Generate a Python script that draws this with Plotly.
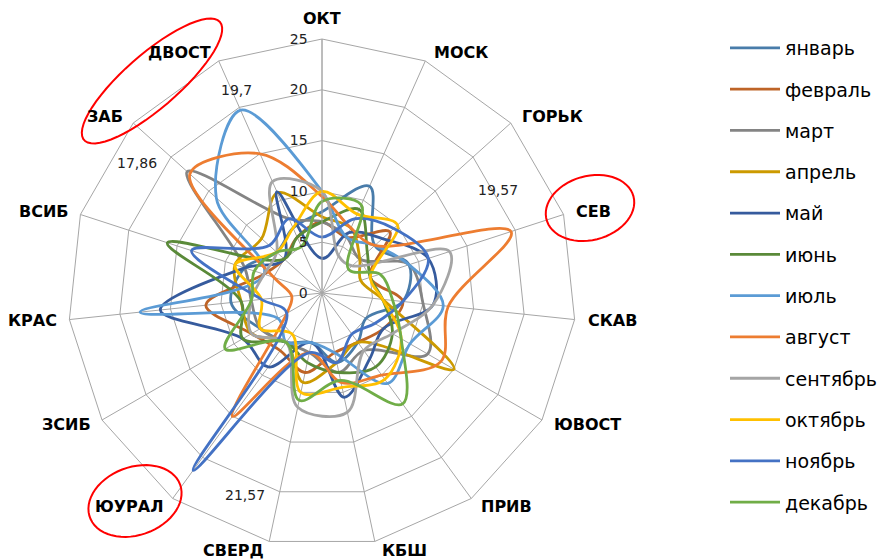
import plotly.graph_objects as go
import numpy as np

categories = ["ОКТ", "МОСК", "ГОРЬК", "СЕВ", "СКАВ", "ЮВОСТ", "ПРИВ", "КБШ",
              "СВЕРД", "ЮУРАЛ", "ЗСИБ", "КРАС", "ВСИБ", "ЗАБ", "ДВОСТ"]

months = ["январь", "февраль", "март", "апрель", "май", "июнь",
          "июль", "август", "сентябрь", "октябрь", "ноябрь", "декабрь"]

jan = [8, 11.5, 7, 9, 8, 5, 6, 7, 5, 6, 7, 9, 8, 6, 7]
feb = [7, 6, 9, 5, 8, 7, 6, 6, 8, 7, 8, 11.5, 6, 5, 6]
mar = [7, 6, 5, 9, 10, 12, 7, 8, 6, 6, 7, 7, 8, 17.86, 8]
apr = [7.5, 7, 5, 4, 6, 15, 6, 7, 9, 6, 8, 8, 9, 8, 10.8]
may = [3.4, 6.5, 8, 11, 11, 7, 8, 10.5, 5, 9, 9, 16, 8, 5, 10.9]
jun = [7, 9, 6, 5, 6, 8, 9, 8, 7, 6, 9, 8, 16, 5, 6]
jul = [10, 6, 7, 9, 12, 10, 11, 6, 5, 6, 5, 18, 6, 14, 19.7]
aug = [9.5, 7, 7, 19.57, 12.5, 13.5, 10, 9, 6, 15, 4, 3, 5, 17.5, 15]
sep = [10, 4, 4, 13.2, 11, 8, 7, 12, 11.5, 6, 8, 7, 6, 6, 12]
octo = [10, 8.5, 10, 5, 6, 9, 10.5, 9.5, 10, 5, 7, 6, 9, 6, 7]
nov = [5.5, 8, 9.5, 11, 8, 6, 5, 7, 6, 21.57, 4, 6, 13.5, 7, 8]
dec = [9, 9.5, 3.5, 6, 7, 9, 13.5, 8.8, 10.8, 6, 11, 7, 7, 6, 5]

series = [jan, feb, mar, apr, may, jun, jul, aug, sep, octo, nov, dec]

colors = ["#497CAA", "#BE6427", "#848484", "#CC9A00", "#365B9D", "#5A8A39",
          "#5B9BD5", "#ED7D31", "#A5A5A5", "#FFC000", "#4472C4", "#70AD47"]

tick_vals = [0, 5, 10, 15, 20, 25]
r_max = 25

callouts = [("19,7", 237, 90), ("17,86", 137, 163), ("19,57", 498, 190), ("21,57", 245, 495)]

W, H = 893, 559
OFF = 8  # page body margin in the browser
cx, cy, R = 322, 293, 254  # target geometry in screenshot pixels

def px2paper(x, y):
    return (x - OFF) / W, 1 - (y - OFF) / H

fig = go.Figure()
for name, vals, col in zip(months, series, colors):
    fig.add_trace(go.Scatterpolar(
        r=vals + vals[:1], theta=categories + categories[:1], name=name,
        mode="lines", line=dict(color=col, width=2.8, shape="spline", smoothing=1),
        legendgroup=name, hoverinfo="skip"))

def ellipse_path(x0, y0, a, b, ang_deg, n=60):
    t = np.linspace(0, 2 * np.pi, n)
    ang = np.radians(ang_deg)
    xs = x0 + a * np.cos(t) * np.cos(ang) - b * np.sin(t) * np.sin(ang)
    ys = y0 + a * np.cos(t) * np.sin(ang) + b * np.sin(t) * np.cos(ang)
    pts = [px2paper(x, y) for x, y in zip(xs, ys)]
    return "M " + " L ".join(f"{p[0]:.5f},{p[1]:.5f}" for p in pts) + " Z"

shapes = [
    dict(type="path", xref="paper", yref="paper", path=ellipse_path(152, 81, 90, 27, -41),
         line=dict(color="#FF0000", width=2)),
    dict(type="path", xref="paper", yref="paper", path=ellipse_path(590, 208, 45, 32, -15),
         line=dict(color="#FF0000", width=2)),
    dict(type="path", xref="paper", yref="paper", path=ellipse_path(135, 501, 48, 34, -20),
         line=dict(color="#FF0000", width=2)),
]

annotations = []
for txt, x, y in callouts:
    px, py = px2paper(x, y)
    annotations.append(dict(text=txt, x=px, y=py, xref="paper", yref="paper",
                            xanchor="center", yanchor="middle",
                            showarrow=False, font=dict(size=14, color="#222", family="DejaVu Sans")))

# category labels placed just outside the outer polygon vertices (Excel style)
n = len(categories)
for i, cat in enumerate(categories):
    th = 2 * np.pi * i / n
    s, c = np.sin(th), np.cos(th)
    vx, vy = cx + R * s, cy - R * c
    if abs(s) < 0.05:
        lx, ly, xa = vx, vy - 21, "center"
    elif s > 0:
        lx, ly, xa = vx + 4 + 7 * abs(s), vy - 9.5 * c, "left"
    else:
        lx, ly, xa = vx - 2 - 8 * abs(s), vy - 9.5 * c, "right"
    px, py = px2paper(lx, ly)
    annotations.append(dict(text=cat, x=px, y=py, xref="paper", yref="paper",
                            xanchor=xa, yanchor="middle", showarrow=False,
                            font=dict(size=16, color="#000", family="DejaVu Sans", weight="bold")))

pcx, pcy = cx - OFF, cy - OFF
fig.update_layout(
    width=W, height=H,
    margin=dict(l=0, r=0, t=0, b=0),
    paper_bgcolor="white",
    plot_bgcolor="white",
    font=dict(family="DejaVu Sans", color="#000"),
    shapes=shapes,
    annotations=annotations,
    polar=dict(
        domain=dict(x=[(pcx - R) / W, (pcx + R) / W], y=[1 - (pcy + R) / H, 1 - (pcy - R) / H]),
        bgcolor="white",
        gridshape="linear",
        radialaxis=dict(range=[0, r_max], tickvals=tick_vals, angle=90, tickangle=90,
                        side="counterclockwise",
                        showline=True, linecolor="#A6A6A6", linewidth=1,
                        gridcolor="#A6A6A6", gridwidth=1, ticks="outside", ticklen=9,
                        tickcolor="rgba(0,0,0,0)",
                        tickfont=dict(size=14, color="#222", family="DejaVu Sans")),
        angularaxis=dict(direction="clockwise", rotation=90, gridcolor="#A6A6A6",
                         linecolor="#A6A6A6", linewidth=1, showline=True,
                         ticks="", showticklabels=False),
    ),
    showlegend=True,
    legend=dict(x=(730 - 13) / W, y=1 - 21 / H, xanchor="left", yanchor="top",
                font=dict(size=19, family="DejaVu Sans", color="#000"),
                tracegroupgap=13.6, itemwidth=50, bgcolor="rgba(0,0,0,0)"),
)

fig.write_html("out.html")
